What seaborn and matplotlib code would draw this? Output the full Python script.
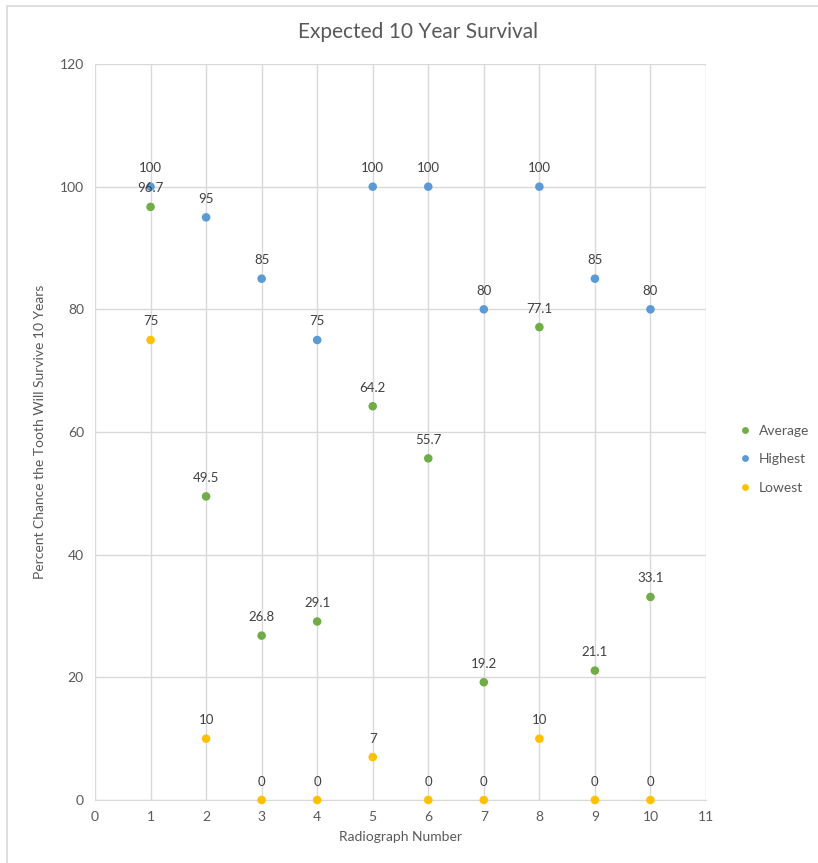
import matplotlib
matplotlib.use("Agg")
import matplotlib.pyplot as plt
import seaborn as sns
import pandas as pd
from matplotlib.patches import Rectangle

radiograph = [1, 2, 3, 4, 5, 6, 7, 8, 9, 10]
average = [96.7, 49.5, 26.8, 29.1, 64.2, 55.7, 19.2, 77.1, 21.1, 33.1]
highest = [100, 95, 85, 75, 100, 100, 80, 100, 85, 80]
lowest = [75, 10, 0, 0, 7, 0, 0, 10, 0, 0]
series_names = ["Average", "Highest", "Lowest"]
colors = {"Average": "#70AD47", "Highest": "#5B9BD5", "Lowest": "#FFC000"}

df = pd.concat([
    pd.DataFrame({"Radiograph": radiograph, "Value": average, "Series": "Average"}),
    pd.DataFrame({"Radiograph": radiograph, "Value": highest, "Series": "Highest"}),
    pd.DataFrame({"Radiograph": radiograph, "Value": lowest, "Series": "Lowest"}),
])

sns.set_style("white")
plt.rcParams['font.family'] = ['Lato', 'DejaVu Sans']
text_color = "#595959"

fig = plt.figure(figsize=(8.18, 8.63), dpi=100)
ax = fig.add_axes([95/818, 63/863, 611/818, 736/863])

sns.scatterplot(data=df, x="Radiograph", y="Value", hue="Series", hue_order=series_names,
                palette=colors, s=38, edgecolor="none", ax=ax, zorder=3, clip_on=False)

for name, vals in zip(series_names, [average, highest, lowest]):
    for x, v in zip(radiograph, vals):
        lab = f"{v:g}"
        ax.annotate(lab, (x, v), xytext=(0, 9), textcoords="offset points",
                    ha="center", va="bottom", fontsize=9.5, color="#404040", zorder=4)

ax.set_xlim(0, 11)
ax.set_ylim(0, 120)
ax.set_xticks(range(0, 12))
ax.set_yticks(range(0, 121, 20))
ax.grid(True, color="#D9D9D9", linewidth=1)
ax.set_axisbelow(True)
for s in ["top", "right", "left"]:
    ax.spines[s].set_visible(False)
ax.spines["bottom"].set_color("#D9D9D9")
ax.tick_params(axis="both", length=0, labelsize=10, colors=text_color, pad=8)
ax.set_xlabel("Radiograph Number", fontsize=10, color=text_color, labelpad=6)
ax.set_ylabel("Percent Chance the Tooth Will Survive 10 Years", fontsize=10, color=text_color, labelpad=10)
fig.text(418/818, 1 - 32/863, "Expected 10 Year Survival", ha="center", va="center",
         fontsize=15, color=text_color)

leg = ax.legend(loc="center left", bbox_to_anchor=(1.02, 0.463), frameon=False,
                fontsize=10, handletextpad=0.0, labelspacing=1.2, markerscale=0.8)
for t in leg.get_texts():
    t.set_color(text_color)

fig.patches.append(Rectangle((7/818, -0.1), 1.2, 1 - 6/863 + 0.1, transform=fig.transFigure,
                             fill=False, edgecolor="#D9D9D9", linewidth=1.2))

fig.savefig("out.png", dpi=100)
